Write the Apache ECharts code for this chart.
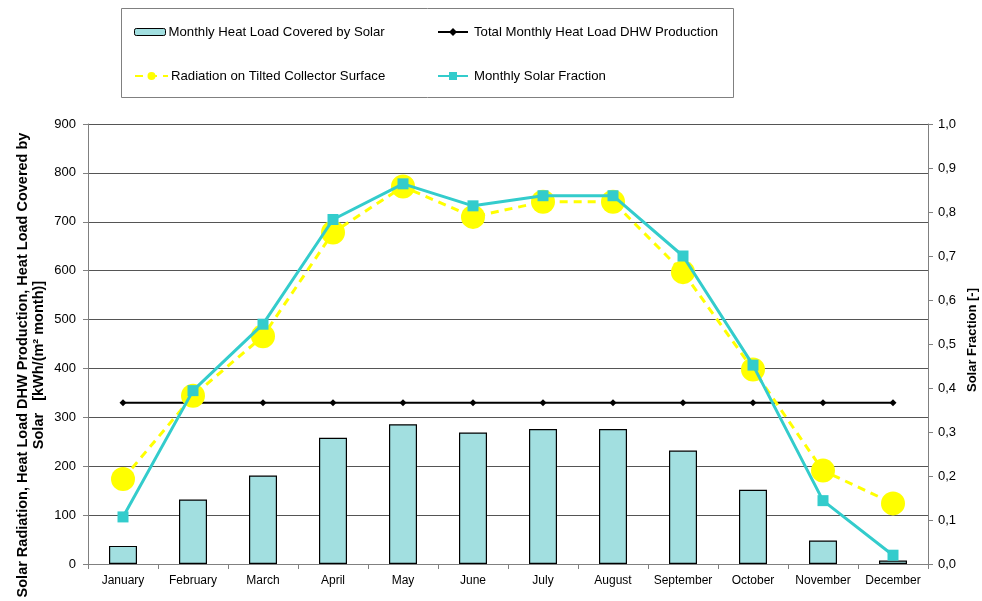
<!DOCTYPE html>
<html>
<head>
<meta charset="utf-8">
<script src="https://cdn.jsdelivr.net/npm/echarts@6/dist/echarts.min.js"></script>
<style>html,body{margin:0;padding:0;background:#fff}#c{width:982px;height:601px}</style>
</head>
<body>
<div id="c"></div>
<script>
var months = ['January','February','March','April','May','June','July','August','September','October','November','December'];
var heatCovered = [37, 132, 181, 258, 286, 269, 276, 276, 232, 152, 48, 7];
var heatTotal = [330, 330, 330, 330, 330, 330, 330, 330, 330, 330, 330, 330];
var radiation = [174, 344, 466, 678, 772, 710, 741, 741, 597, 398, 191, 124];
var solarFraction = [0.107, 0.394, 0.545, 0.783, 0.864, 0.814, 0.837, 0.837, 0.700, 0.452, 0.144, 0.020];
var leftTicks = {min: 0, max: 900, interval: 100};
var rightTicks = {min: 0, max: 1, interval: 0.1};

var names = ['Monthly Heat Load Covered by Solar','Total Monthly Heat Load DHW Production','Radiation on Tilted Collector Surface','Monthly Solar Fraction'];
var FONT = 'Liberation Sans, Arial, sans-serif';

var chart = echarts.init(document.getElementById('c'));
function leg(name, left, top, w, h, pad, extra) {
  var o = {data: [name], left: left, top: top, orient: 'horizontal', itemWidth: w, itemHeight: h, itemGap: 4,
    textStyle: {fontFamily: FONT, fontSize: 13.2, color: '#000', lineHeight: 14, padding: [0,0,0,pad]}, selectedMode: false, padding: 0};
  if (extra) { for (var k in extra) o[k] = extra[k]; }
  return o;
}
chart.setOption({
  animation: false,
  backgroundColor: '#fff',
  textStyle: {fontFamily: FONT},
  grid: {left: 88, right: 54, top: 124, bottom: 37},
  legend: [
    leg(names[0], 134, 25, 31, 7, -2, {itemStyle: {borderWidth: 1}}),
    leg(names[1], 437, 25, 30, 10, 1),
    leg(names[2], 134, 69, 33, 10, -2),
    leg(names[3], 437, 69, 30, 10, 1)
  ],
  graphic: [
    {type: 'rect', shape: {x: 121.5, y: 8.5, width: 612, height: 89}, style: {fill: 'none', stroke: '#808080', lineWidth: 1}, z: -1},
    {type: 'text', x: 31, y: 365, rotation: Math.PI/2, style: {text: 'Solar Radiation, Heat Load DHW Production, Heat Load Covered by\nSolar   [kWh/(m² month)]', font: 'bold 14.5px ' + FONT, fill: '#000', align: 'center', verticalAlign: 'middle', lineHeight: 16}},
    {type: 'text', x: 972, y: 340, rotation: Math.PI/2, style: {text: 'Solar Fraction [-]', font: 'bold 13px ' + FONT, fill: '#000', align: 'center', verticalAlign: 'middle'}}
  ],
  xAxis: {
    type: 'category', data: months, boundaryGap: true,
    axisLine: {lineStyle: {color: '#808080', width: 1}},
    axisTick: {show: true, interval: 0, length: 5, lineStyle: {color: '#808080'}},
    axisLabel: {interval: 0, fontFamily: 'Liberation Sans Narrow, Arial Narrow, ' + FONT, fontSize: 12, color: '#000', margin: 11}
  },
  yAxis: [
    {type: 'value', min: leftTicks.min, max: leftTicks.max, interval: leftTicks.interval,
     axisLine: {show: true, lineStyle: {color: '#808080'}},
     axisTick: {show: true, length: 5, lineStyle: {color: '#808080'}},
     splitLine: {show: true, lineStyle: {color: '#555', width: 1}},
     axisLabel: {fontSize: 13, color: '#000', margin: 12, fontFamily: FONT}},
    {type: 'value', min: rightTicks.min, max: rightTicks.max, interval: rightTicks.interval, position: 'right',
     axisLine: {show: true, lineStyle: {color: '#808080'}},
     axisTick: {show: true, length: 5, lineStyle: {color: '#808080'}},
     splitLine: {show: false},
     axisLabel: {fontSize: 13, color: '#000', margin: 10, fontFamily: FONT,
       formatter: function (v) { return v.toFixed(1).replace('.', ','); }}}
  ],
  series: [
    {name: names[0], type: 'bar', data: heatCovered, barWidth: '40%', yAxisIndex: 0, z: 2,
     itemStyle: {color: '#A2DFE0', borderColor: '#000', borderWidth: 1.2}},
    {name: names[1], type: 'line', data: heatTotal, yAxisIndex: 0, z: 3,
     symbol: 'diamond', symbolSize: 7, lineStyle: {color: '#000', width: 2}, itemStyle: {color: '#000'}},
    {name: names[2], type: 'line', data: radiation, yAxisIndex: 0, z: 4,
     symbol: 'circle', symbolSize: 24, lineStyle: {color: '#FFFF00', width: 3, type: [8, 6]}, itemStyle: {color: '#FFFF00'}},
    {name: names[3], type: 'line', data: solarFraction, yAxisIndex: 1, z: 5,
     symbol: 'rect', symbolSize: 11, lineStyle: {color: '#33CCCC', width: 3}, itemStyle: {color: '#33CCCC'}}
  ]
});
</script>
</body>
</html>
